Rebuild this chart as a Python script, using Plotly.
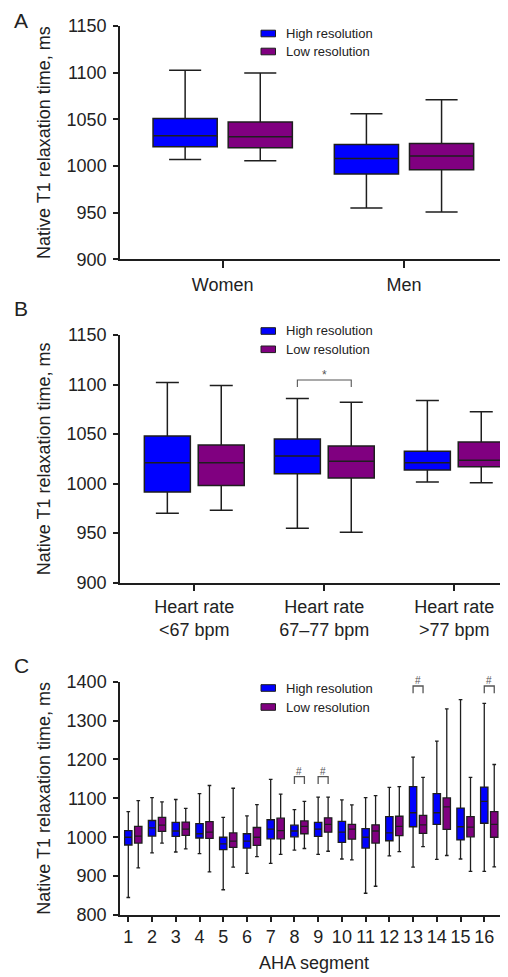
import plotly.graph_objects as go

# ---------------- data ----------------
SERIES_NAMES = ["High resolution", "Low resolution"]

# Panel A: sex
A_cats = ["Women", "Men"]
A_hi_lower = [1007, 955]
A_hi_q1 = [1020.7, 991.4]
A_hi_med = [1032.5, 1008]
A_hi_q3 = [1051, 1023]
A_hi_upper = [1102.5, 1056]
A_lo_lower = [1005.7, 950.7]
A_lo_q1 = [1019.6, 996]
A_lo_med = [1031.4, 1010.7]
A_lo_q3 = [1047, 1024]
A_lo_upper = [1099.6, 1071]

# Panel B: heart rate
B_cats = ["Heart rate<br>&lt;67 bpm", "Heart rate<br>67–77 bpm", "Heart rate<br>&gt;77 bpm"]
B_hi_lower = [970, 955, 1001.6]
B_hi_q1 = [991.5, 1010, 1013.7]
B_hi_med = [1021, 1028, 1021]
B_hi_q3 = [1048, 1045, 1032.6]
B_hi_upper = [1102, 1086, 1084]
B_lo_lower = [973, 951, 1001]
B_lo_q1 = [998, 1005.7, 1017]
B_lo_med = [1021, 1022.5, 1023.5]
B_lo_q3 = [1039, 1038, 1042]
B_lo_upper = [1099, 1082, 1072.6]
B_sig_cat = [1]          # index of category with "*"

# Panel C: AHA segments
C_segments = list(range(1, 17))
C_hi_upper = [1066, 1102, 1097, 1112, 1051, 1055, 1149, 1071, 1103, 1096, 1102, 1128, 1206, 1247, 1354, 1344]
C_hi_q3 = [1017, 1043, 1038, 1035, 1000, 1009, 1045, 1031, 1038, 1041, 1022, 1053, 1130, 1112, 1075, 1129]
C_hi_med = [1000, 1024, 1016, 1009, 983, 990, 1021, 1016, 1021, 1013, 1000, 1011, 1063, 1063, 1027, 1092]
C_hi_q1 = [980, 1003, 1002, 998, 968, 972, 996, 1001, 1002, 987, 972, 991, 1027, 1033, 993, 1036]
C_hi_lower = [845, 960, 962, 958, 865, 907, 933, 967, 956, 944, 856, 952, 923, 943, 944, 912]
C_lo_upper = [1094, 1091, 1074, 1133, 1126, 1084, 1111, 1092, 1103, 1083, 1107, 1130, 1154, 1330, 1154, 1187]
C_lo_q3 = [1028, 1051, 1039, 1040, 1011, 1025, 1049, 1042, 1050, 1033, 1032, 1054, 1056, 1101, 1053, 1066]
C_lo_med = [1003, 1031, 1021, 1013, 990, 1000, 1017, 1028, 1033, 1021, 1016, 1028, 1032, 1078, 1026, 1033]
C_lo_q1 = [985, 1015, 1005, 997, 974, 979, 996, 1009, 1013, 995, 985, 1004, 1010, 1020, 1001, 1000]
C_lo_lower = [921, 985, 970, 911, 923, 950, 956, 971, 964, 942, 874, 963, 976, 953, 912, 924]
C_sig_segments = [8, 9, 13, 16]
C_sig_levels = [1156, 1156, 1389, 1389]

# ---------------- style / geometry ----------------
PAGE_OFF = 8            # default page margin of the html body
W, H = 508 - PAGE_OFF, 977 - PAGE_OFF
AXIS_X = 120            # screen x of the y axes
ML = AXIS_X - PAGE_OFF
BLUE = "#0000ff"
PURPLE = "#800080"
COLORS = [BLUE, PURPLE]
LINE = "#1e1e1e"
TXT = "#222222"
FONT = "Liberation Sans, Arial, sans-serif"
BOXGAP = 0.171
BOXGROUPGAP = 0.146
GROUP_OFF = 0.25 * (1 - BOXGAP)
C_OFF = 0.42
C_WIDTH = 0.31


def px_x(px):
    """screen px -> paper x"""
    return (px - PAGE_OFF - ML) / (W - ML)


def px_y(py):
    """screen px -> paper y"""
    return 1 - (py - PAGE_OFF) / H


fig = go.Figure()


def add_box(x, lo, q1, med, q3, up, name, color, ax,
            offsetgroup=None, alignmentgroup=None, width=None, lw=1.5):
    kw = {}
    if offsetgroup:
        kw["offsetgroup"] = offsetgroup
        kw["alignmentgroup"] = alignmentgroup
    if width:
        kw["width"] = width
    fig.add_trace(go.Box(
        x=x, lowerfence=lo, q1=q1, median=med, q3=q3, upperfence=up,
        name=name, fillcolor=color, line=dict(color=LINE, width=lw),
        whiskerwidth=0.5, boxpoints=False, showlegend=False,
        xaxis="x" + ax, yaxis="y" + ax, hoverinfo="y", **kw))


# Panel A
add_box(A_cats, A_hi_lower, A_hi_q1, A_hi_med, A_hi_q3, A_hi_upper,
        SERIES_NAMES[0], BLUE, "", "high", "A")
add_box(A_cats, A_lo_lower, A_lo_q1, A_lo_med, A_lo_q3, A_lo_upper,
        SERIES_NAMES[1], PURPLE, "", "low", "A")
# Panel B
add_box(B_cats, B_hi_lower, B_hi_q1, B_hi_med, B_hi_q3, B_hi_upper,
        SERIES_NAMES[0], BLUE, "2", "high", "B")
add_box(B_cats, B_lo_lower, B_lo_q1, B_lo_med, B_lo_q3, B_lo_upper,
        SERIES_NAMES[1], PURPLE, "2", "low", "B")
# Panel C
add_box(C_segments, C_hi_lower, C_hi_q1, C_hi_med, C_hi_q3, C_hi_upper,
        SERIES_NAMES[0], BLUE, "3", width=C_WIDTH, lw=1.3)
add_box([s + C_OFF for s in C_segments], C_lo_lower, C_lo_q1, C_lo_med, C_lo_q3, C_lo_upper,
        SERIES_NAMES[1], PURPLE, "3", width=C_WIDTH, lw=1.3)

axis_common = dict(showgrid=False, zeroline=False, showline=True, linecolor=LINE,
                   linewidth=1.5, ticks="outside", tickcolor=LINE, tickwidth=1.5,
                   automargin=False,
                   tickfont=dict(size=18, color=TXT, family=FONT))

ytitle = dict(text="Native T1 relaxation time, ms", font=dict(size=18, color=TXT, family=FONT),
              standoff=11)

domA = [px_y(259.3), px_y(26)]
domB = [px_y(582.7), px_y(335)]
domC = [px_y(915), px_y(681.7)]

fig.update_layout(
    xaxis=dict(axis_common, type="category", range=[-0.5665, 1.5737], domain=[0, 1],
               anchor="y", ticklen=7, ticklabelstandoff=1),
    yaxis=dict(axis_common, range=[900, 1150], dtick=50, domain=domA, anchor="x",
               ticklen=5, ticklabelstandoff=3, title=ytitle),
    xaxis2=dict(axis_common, type="category", range=[-0.5715, 2.413], domain=[0, 1],
                anchor="y2", ticklen=7, ticklabelstandoff=0),
    yaxis2=dict(axis_common, range=[900, 1150], dtick=50, domain=domB, anchor="x2",
                ticklen=5, ticklabelstandoff=3, title=ytitle),
    xaxis3=dict(axis_common, range=[0.65, 17.0], tickmode="array", tickvals=C_segments,
                domain=[0, 1], anchor="y3", ticklen=5,
                title=dict(text="AHA segment", font=dict(size=18, color=TXT, family=FONT),
                           standoff=10)),
    yaxis3=dict(axis_common, range=[800, 1400], dtick=100, domain=domC, anchor="x3",
                ticklen=5, ticklabelstandoff=3, title=ytitle),
    boxmode="group", boxgap=BOXGAP, boxgroupgap=BOXGROUPGAP,
    width=W, height=H,
    margin=dict(l=ML, r=0, t=0, b=0, autoexpand=False),
    paper_bgcolor="white", plot_bgcolor="white",
    font=dict(family=FONT, color=TXT),
    showlegend=False,
)

# legends (one per panel): colour patch + label
LEGEND_ROWS = [(33.5, 51.5), (331, 349.3), (688, 707)]
for rows in LEGEND_ROWS:
    for name, color, cy in zip(SERIES_NAMES, COLORS, rows):
        fig.add_shape(type="rect", xref="paper", yref="paper",
                      x0=px_x(261), x1=px_x(275.5), y0=px_y(cy + 3.3), y1=px_y(cy - 3.3),
                      fillcolor=color, line=dict(color=LINE, width=1))
        fig.add_annotation(text=name, x=px_x(284), y=px_y(cy), xref="paper", yref="paper",
                           showarrow=False, xanchor="left", yanchor="middle",
                           font=dict(size=13, color=TXT, family=FONT))

# panel letters
fig.add_annotation(text="A", x=px_x(21), y=1, xref="paper", yref="paper",
                   showarrow=False, font=dict(size=21, color=TXT, family=FONT),
                   xanchor="center", yanchor="top", borderpad=0)
for letter, (lx, ly) in zip(["B", "C"], [(21, 309), (21, 665)]):
    fig.add_annotation(text=letter, x=px_x(lx), y=px_y(ly), xref="paper", yref="paper",
                       showarrow=False, font=dict(size=21, color=TXT, family=FONT),
                       xanchor="center", yanchor="middle")

# short extension of each x axis line to the left of the y axis
for yd in (domA, domB, domC):
    fig.add_shape(type="line", xref="paper", yref="paper", x0=px_x(115), x1=0,
                  y0=yd[0], y1=yd[0], line=dict(color=LINE, width=1.5))

BR = "#555555"
# Panel B significance bracket
for ci in B_sig_cat:
    x0, x1 = ci - GROUP_OFF, ci + GROUP_OFF
    top, leg = 1104.6, 1097.5
    fig.add_shape(type="path", xref="x2", yref="y2",
                  path=f"M {x0},{leg} L {x0},{top} L {x1},{top} L {x1},{leg}",
                  line=dict(color=BR, width=1.1))
    fig.add_annotation(text="*", x=ci, y=top, xref="x2", yref="y2", showarrow=False,
                       yanchor="bottom", yshift=-4, font=dict(size=12, color=BR, family=FONT))

# Panel C significance brackets
for s, lev in zip(C_sig_segments, C_sig_levels):
    x0, x1 = s, s + C_OFF
    fig.add_shape(type="path", xref="x3", yref="y3",
                  path=f"M {x0},{lev - 19} L {x0},{lev} L {x1},{lev} L {x1},{lev - 19}",
                  line=dict(color=BR, width=1.3))
    fig.add_annotation(text="#", x=(x0 + x1) / 2, y=lev, xref="x3", yref="y3", showarrow=False,
                       yanchor="bottom", yshift=-2, font=dict(size=10, color=BR, family=FONT))

fig.write_html("out.html")
